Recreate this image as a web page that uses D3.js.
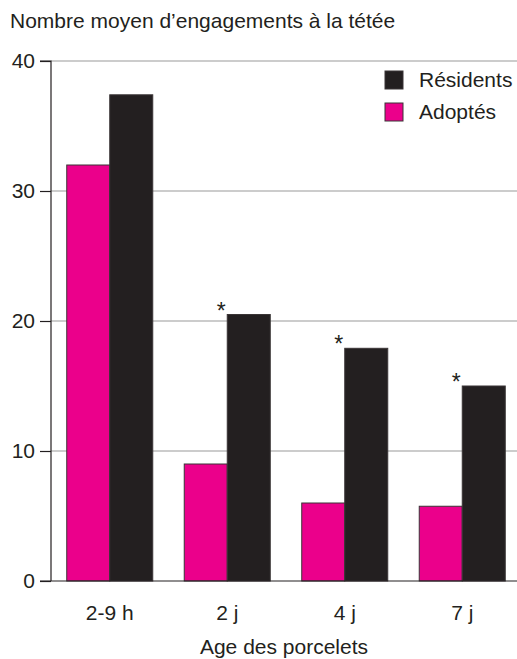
<!DOCTYPE html>
<html><head><meta charset="utf-8">
<script src="https://cdn.jsdelivr.net/npm/d3@7"></script>
<style>body{margin:0;background:#fff}svg{display:block;font-family:"Liberation Sans",Arial,sans-serif}</style>
</head><body>
<svg id="c" width="517" height="659"></svg>
<script>
const categories = ["2-9 h", "2 j", "4 j", "7 j"];
const seriesNames = ["Adoptés", "Résidents"];
const adoptes = [32.0, 9.0, 6.0, 5.75];
const residents = [37.4, 20.5, 17.9, 15.0];
const significant = [false, true, true, true];
const yTicks = [0, 10, 20, 30, 40];
const colors = {"Adoptés": "#EB008B", "Résidents": "#231F20"};

(function () {
const FS = 21;
const svg = d3.select("#c");
const pLeft = 51, pRight = 517, pTop = 61, pBottom = 581;
const y = d3.scaleLinear().domain([0, 40]).range([pBottom, pTop]);
const x = d3.scaleBand().domain(categories).range([pLeft, 521]).paddingInner(0.268).paddingOuter(0.134);
const xs = d3.scaleBand().domain(seriesNames).range([0, x.bandwidth()]);

// gridlines
svg.append("g").selectAll("line").data(yTicks.filter(t => t > 0)).join("line")
  .attr("x1", pLeft).attr("x2", pRight).attr("y1", d => y(d)).attr("y2", d => y(d))
  .attr("stroke", "#9a9a9a").attr("stroke-width", 1.2);

// y axis
const yAxis = d3.axisLeft(y).tickValues(yTicks).tickSize(11).tickPadding(5).tickFormat(d3.format("d"));
const ga = svg.append("g").attr("transform", `translate(${pLeft},0)`).call(yAxis);
ga.select(".domain").attr("stroke", "#231F20").attr("stroke-width", 1.2).attr("d", `M-11,${pTop}H0V${pBottom}`);
ga.selectAll(".tick line").attr("stroke", "#231F20").attr("stroke-width", 1.2);
ga.selectAll(".tick text").attr("font-size", FS).attr("fill", "#231F20").attr("font-family", "Liberation Sans, Arial, sans-serif");

// bars
const data = categories.map((c, i) => ({c, i, values: [{s: "Adoptés", v: adoptes[i]}, {s: "Résidents", v: residents[i]}]}));
const g = svg.append("g").selectAll("g").data(data).join("g").attr("transform", d => `translate(${x(d.c)},0)`);
g.selectAll("rect").data(d => d.values).join("rect")
  .attr("x", d => xs(d.s)).attr("width", xs.bandwidth())
  .attr("y", d => y(d.v)).attr("height", d => y(0) - y(d.v))
  .attr("fill", d => colors[d.s]).attr("stroke", "#3a3536").attr("stroke-width", 1);

// asterisks
g.filter(d => significant[d.i]).append("text")
  .attr("x", xs("Résidents") - 6).attr("y", d => y(residents[d.i]) + 4)
  .attr("text-anchor", "middle").attr("font-size", 23).attr("fill", "#231F20").text("*");

// baseline
svg.append("line").attr("x1", pLeft - 11).attr("x2", pRight).attr("y1", y(0)).attr("y2", y(0))
  .attr("stroke", "#231F20").attr("stroke-width", 1.2);

// x labels
const xAxis = d3.axisBottom(x).tickSize(0).tickPadding(24);
const gx = svg.append("g").attr("transform", `translate(0,${pBottom})`).call(xAxis);
gx.select(".domain").remove();
gx.selectAll(".tick text").attr("font-size", FS).attr("fill", "#231F20").attr("font-family", "Liberation Sans, Arial, sans-serif");

svg.append("text").attr("x", (pLeft + pRight) / 2).attr("y", 654).attr("text-anchor", "middle")
  .attr("font-size", FS).attr("fill", "#231F20").text("Age des porcelets");

svg.append("text").attr("x", 10).attr("y", 28).attr("font-size", FS).attr("fill", "#231F20")
  .text("Nombre moyen d’engagements à la tétée");

// legend
const legend = svg.append("g").attr("transform", "translate(385,71)");
const legItems = ["Résidents", "Adoptés"];
const li = legend.selectAll("g").data(legItems).join("g").attr("transform", (d, i) => `translate(0,${i * 32})`);
li.append("rect").attr("width", 18).attr("height", 18).attr("fill", d => colors[d]).attr("stroke", "#3a3536").attr("stroke-width", 1);
li.append("text").attr("x", 34).attr("y", 16).attr("font-size", FS).attr("fill", "#231F20").text(d => d);
})();
</script>
</body></html>
